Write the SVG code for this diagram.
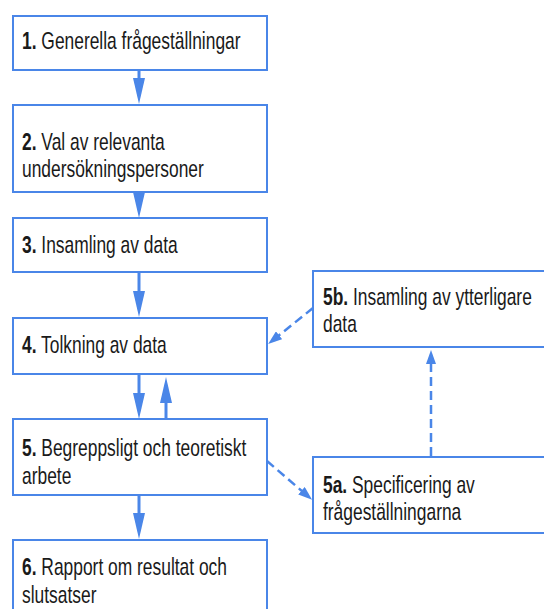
<svg xmlns="http://www.w3.org/2000/svg" width="544" height="609" viewBox="0 0 544 609">
  <style>
    .box { fill: #ffffff; stroke: #4a86e8; stroke-width: 2; }
    .lbl { font-family: "Liberation Sans", Arial, sans-serif; font-size: 24px; fill: #1a1a1a; }
    .num { font-weight: bold; }
    .solid { stroke: #4a86e8; stroke-width: 3; fill: none; }
    .dash { stroke: #4a86e8; stroke-width: 2.5; fill: none; stroke-dasharray: 9 5; }
  </style>
  <defs>
    <marker id="head" markerUnits="userSpaceOnUse" markerWidth="26" markerHeight="12" refX="4" refY="6" orient="auto">
      <path d="M0,0 L26,6 L0,12 z" fill="#4a86e8"/>
    </marker>
    <marker id="headSmall" markerUnits="userSpaceOnUse" markerWidth="15" markerHeight="10" refX="2" refY="5" orient="auto">
      <path d="M0,0 L14,5 L0,10 z" fill="#4a86e8"/>
    </marker>
  </defs>
  <rect width="544" height="609" fill="#ffffff"/>

  <g id="node-1">
    <rect class="box" x="13" y="16" width="254" height="54"/>
    <text class="lbl" transform="translate(22,49) scale(0.725,1)"><tspan class="num">1.</tspan> Generella frågeställningar</text>
  </g>
  <g id="node-2">
    <rect class="box" x="13" y="105" width="254" height="87"/>
    <text class="lbl" transform="translate(22,150) scale(0.725,1)"><tspan class="num">2.</tspan> Val av relevanta<tspan x="0" dy="27">undersökningspersoner</tspan></text>
  </g>
  <g id="node-3">
    <rect class="box" x="13" y="218" width="254" height="54"/>
    <text class="lbl" transform="translate(22,253) scale(0.725,1)"><tspan class="num">3.</tspan> Insamling av data</text>
  </g>
  <g id="node-4">
    <rect class="box" x="13" y="318" width="254" height="56"/>
    <text class="lbl" transform="translate(22,353) scale(0.725,1)"><tspan class="num">4.</tspan> Tolkning av data</text>
  </g>
  <g id="node-5">
    <rect class="box" x="13" y="419" width="254" height="76"/>
    <text class="lbl" transform="translate(22,456) scale(0.725,1)"><tspan class="num">5.</tspan> Begreppsligt och teoretiskt<tspan x="0" dy="28">arbete</tspan></text>
  </g>
  <g id="node-6">
    <rect class="box" x="13" y="540" width="254" height="80"/>
    <text class="lbl" transform="translate(22,575) scale(0.725,1)"><tspan class="num">6.</tspan> Rapport om resultat och<tspan x="0" dy="28">slutsatser</tspan></text>
  </g>
  <g id="node-5b">
    <rect class="box" x="313" y="271" width="240" height="76"/>
    <text class="lbl" transform="translate(323,305) scale(0.725,1)"><tspan class="num">5b.</tspan> Insamling av ytterligare<tspan x="0" dy="27">data</tspan></text>
  </g>
  <g id="node-5a">
    <rect class="box" x="313" y="457" width="240" height="76"/>
    <text class="lbl" transform="translate(323,493) scale(0.725,1)"><tspan class="num">5a.</tspan> Specificering av<tspan x="0" dy="27">frågeställningarna</tspan></text>
  </g>

  <g id="connectors">
    <line class="solid" x1="139" y1="71" x2="139" y2="82" marker-end="url(#head)"/>
    <line class="solid" x1="139" y1="193" x2="139" y2="196" marker-end="url(#head)"/>
    <line class="solid" x1="139" y1="273" x2="139" y2="295" marker-end="url(#head)"/>
    <line class="solid" x1="139" y1="375" x2="139" y2="397" marker-end="url(#head)"/>
    <line class="solid" x1="166" y1="419" x2="166" y2="399" marker-end="url(#head)"/>
    <line class="solid" x1="139" y1="496" x2="139" y2="517" marker-end="url(#head)"/>
    <line class="dash" x1="267" y1="461" x2="303" y2="492" marker-end="url(#headSmall)"/>
    <line class="dash" x1="431" y1="456" x2="431" y2="362" marker-end="url(#headSmall)"/>
    <line class="dash" x1="313" y1="308" x2="277.5" y2="336.5" marker-end="url(#headSmall)"/>
  </g>
</svg>
